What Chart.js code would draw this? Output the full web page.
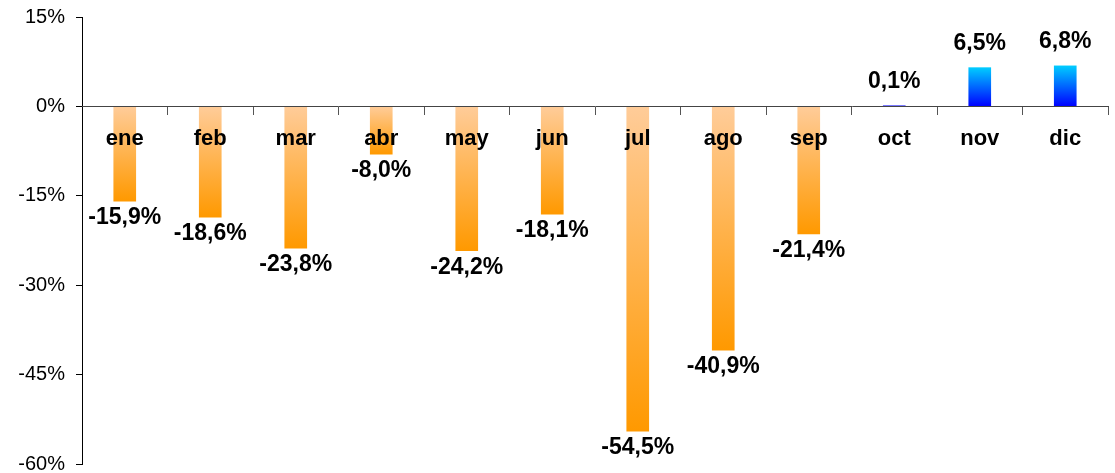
<!DOCTYPE html>
<html>
<head>
<meta charset="utf-8">
<script src="https://cdn.jsdelivr.net/npm/chart.js@4/dist/chart.umd.min.js"></script>
<style>
  html, body { margin: 0; padding: 0; background: #fff; }
  #wrap { width: 1115px; height: 473px; }
</style>
</head>
<body>
<div id="wrap"><canvas id="chart"></canvas></div>
<script>
// --- Data ---
const months = ['ene', 'feb', 'mar', 'abr', 'may', 'jun', 'jul', 'ago', 'sep', 'oct', 'nov', 'dic'];
const variation = [-15.9, -18.6, -23.8, -8.0, -24.2, -18.1, -54.5, -40.9, -21.4, 0.1, 6.5, 6.8];
const yTicks = [15, 0, -15, -30, -45, -60];

const FONT = '"Liberation Sans", Arial, Helvetica, sans-serif';

// per-bar vertical gradient, from the zero line to the end of the bar
function barFill(context) {
    const chart = context.chart;
    if (!chart.chartArea) return '#ff9900';
    const y = chart.scales.y;
    const v = context.raw;
    const y0 = y.getPixelForValue(0);
    const y1 = y.getPixelForValue(v);
    if (Math.abs(y1 - y0) < 1) return v < 0 ? '#ff9900' : '#0000ff';
    const g = chart.ctx.createLinearGradient(0, y0, 0, y1);
    if (v < 0) {
        g.addColorStop(0, '#ffcc99');
        g.addColorStop(1, '#ff9900');
    } else {
        g.addColorStop(0, '#0000ff');
        g.addColorStop(1, '#00ccff');
    }
    return g;
}

// value labels: below negative bars, above positive ones
const valueLabels = {
    id: 'valueLabels',
    afterDatasetsDraw(chart) {
        const ctx = chart.ctx;
        const meta = chart.getDatasetMeta(0);
        ctx.save();
        ctx.font = 'bold 23px ' + FONT;
        ctx.fillStyle = '#000';
        ctx.textAlign = 'center';
        ctx.textBaseline = 'alphabetic';
        meta.data.forEach((bar, i) => {
            const v = variation[i];
            const txt = v.toFixed(1).replace('.', ',') + '%';
            const yPos = v < 0 ? bar.y + 23 : bar.y - 18;
            ctx.fillText(txt, bar.x, yPos);
        });
        ctx.restore();
    }
};

new Chart(document.getElementById('chart'), {
    type: 'bar',
    data: {
        labels: months,
        datasets: [{
            data: variation,
            backgroundColor: barFill,
            borderWidth: 0,
            barThickness: 22
        }]
    },
    options: {
        responsive: true,
        maintainAspectRatio: false,
        animation: false,
        layout: { padding: { left: 0, right: 7, top: 17, bottom: 9 } },
        plugins: {
            legend: { display: false },
            tooltip: { enabled: false }
        },
        scales: {
            x: {
                position: { y: 0 },
                grid: {
                    display: true,
                    drawOnChartArea: false,
                    drawTicks: true,
                    tickLength: 8,
                    offset: true,
                    color: '#555'
                },
                border: { display: true, color: '#444', width: 1, z: 1 },
                ticks: {
                    z: 1, // month names sit on top of the bars
                    color: '#000',
                    padding: 11,
                    font: { family: FONT, size: 22, weight: 'bold' }
                }
            },
            y: {
                min: -60,
                max: 15,
                afterBuildTicks: (scale) => {
                    scale.ticks = yTicks.map(v => ({ value: v }));
                },
                afterFit: (scale) => {
                    scale.width = 82;
                    scale.paddingTop = 0;
                    scale.paddingBottom = 0;
                },
                grid: {
                    display: true,
                    drawOnChartArea: false,
                    drawTicks: true,
                    tickLength: 6,
                    color: '#000'
                },
                border: { display: true, color: '#000', width: 1 },
                ticks: {
                    color: '#000',
                    padding: 11,
                    font: { family: FONT, size: 20 },
                    callback: (v) => v + '%'
                }
            }
        }
    },
    plugins: [valueLabels]
});
</script>
</body>
</html>
